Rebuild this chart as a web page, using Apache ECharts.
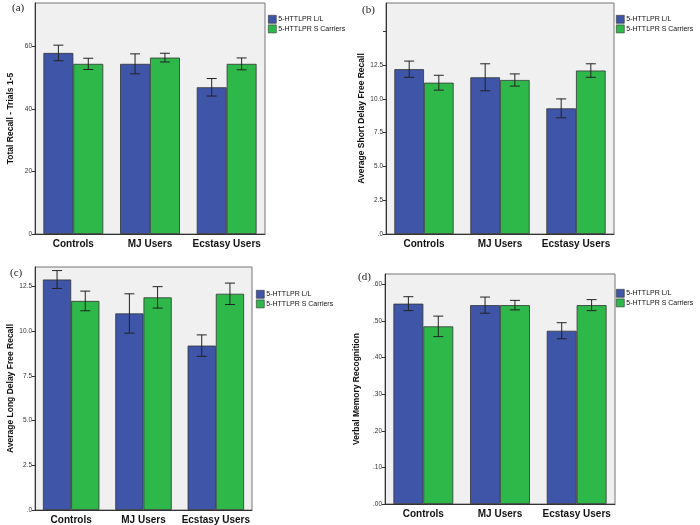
<!DOCTYPE html>
<html><head><meta charset="utf-8">
<script src="https://cdn.jsdelivr.net/npm/echarts@6/dist/echarts.min.js"></script>
<style>body{margin:0;background:#fff}#c{width:700px;height:525px}</style>
</head><body><div id="c"></div>
<script>
const categories = ['Controls', 'MJ Users', 'Ecstasy Users'];
const seriesNames = ['5-HTTLPR L/L', '5-HTTLPR S Carriers'];
const panelLabels = ['(a)', '(b)', '(c)', '(d)'];
const yNames = ['Total Recall - Trials 1-5', 'Average Short Delay Free Recall', 'Average Long Delay Free Recall', 'Verbal Memory Recognition'];
const aLL = [58, 54.5, 47];       const aLLerr = [2.5, 3.2, 2.8];
const aS  = [54.5, 56.5, 54.5];   const aSerr  = [1.8, 1.4, 1.9];
const bLL = [12.2, 11.6, 9.3];    const bLLerr = [0.6, 1.0, 0.7];
const bS  = [11.2, 11.4, 12.1];   const bSerr  = [0.55, 0.45, 0.5];
const cLL = [12.9, 11.0, 9.2];    const cLLerr = [0.5, 1.1, 0.6];
const cS  = [11.7, 11.9, 12.1];   const cSerr  = [0.55, 0.6, 0.6];
const dLL = [0.547, 0.543, 0.473]; const dLLerr = [0.019, 0.022, 0.022];
const dS  = [0.485, 0.543, 0.543]; const dSerr  = [0.028, 0.013, 0.015];
const aTicks = [0, 20, 40, 60];
const bTicks = ['.0', '2.5', '5.0', '7.5', '10.0', '12.5'];
const dTicks = ['.00', '.10', '.20', '.30', '.40', '.50', '.60'];

const panels = [
  {ll:aLL,lle:aLLerr,s:aS,se:aSerr,max:74,interval:20,fmt:v=>aTicks.includes(v)?String(v):''},
  {ll:bLL,lle:bLLerr,s:bS,se:bSerr,max:17.1,interval:2.5,fmt:v=>bTicks[Math.round(v/2.5)]||''},
  {ll:cLL,lle:cLLerr,s:cS,se:cSerr,max:13.6,interval:2.5,fmt:v=>bTicks[Math.round(v/2.5)]||''},
  {ll:dLL,lle:dLLerr,s:dS,se:dSerr,max:0.628,interval:0.1,fmt:v=>dTicks[Math.round(v/0.1)]||''}
];
const grids = [
  {left:35,top:3,width:230,height:231},
  {left:386,top:3,width:228,height:231},
  {left:35,top:267,width:217,height:245},
  {left:385,top:274,width:230,height:230}
];
const legendPos = [[268,15],[616,15],[256,290],[616,289]];
const labelPos = [[12,3],[362,5],[10,268],[358,272]];
const colors = ['#3f56a8', '#2fb84a'];
const font = 'Liberation Sans, DejaVu Sans, sans-serif';

const option = {animation:false, grid:[], xAxis:[], yAxis:[], series:[], legend:[], graphic:[]};
const errRender = (offsetSign) => (params, api) => {
  const x = api.value(0), lo = api.value(1), hi = api.value(2);
  const band = api.size([1,0])[0];
  const cx = api.coord([x, lo])[0] + offsetSign*band*0.195;
  const yl = api.coord([x, lo])[1], yh = api.coord([x, hi])[1];
  const w = 5;
  const st = {stroke:'#222', lineWidth:1};
  return {type:'group', children:[
    {type:'line', shape:{x1:cx,y1:yl,x2:cx,y2:yh}, style:st},
    {type:'line', shape:{x1:cx-w,y1:yl,x2:cx+w,y2:yl}, style:st},
    {type:'line', shape:{x1:cx-w,y1:yh,x2:cx+w,y2:yh}, style:st}
  ]};
};
panels.forEach((p, i) => {
  option.grid.push(Object.assign({backgroundColor:'#f0f0f0', show:true, borderColor:'#777', borderWidth:1}, grids[i]));
  option.xAxis.push({type:'category', gridIndex:i, data:categories,
    axisLine:{lineStyle:{color:'#333'}}, axisTick:{show:false},
    axisLabel:{interval:0, fontFamily:font, fontWeight:'bold', fontSize:10, color:'#111', margin:5}});
  option.yAxis.push({type:'value', gridIndex:i, min:0, max:p.max, interval:p.interval,
    name:yNames[i], nameLocation:'middle', nameGap:i==3?24:20, nameRotate:90,
    nameTextStyle:{fontFamily:font, fontWeight:'bold', fontSize:8.5, color:'#111'},
    splitLine:{show:false}, axisLine:{show:true, lineStyle:{color:'#333'}},
    axisTick:{show:true, length:3}, axisLabel:{fontFamily:font, fontSize:6.5, color:'#333', margin:3, formatter:p.fmt, showMaxLabel:false}});
  [[p.ll,p.lle,-1],[p.s,p.se,1]].forEach(([vals,errs,sg],k) => {
    option.series.push({type:'bar', name:seriesNames[k], xAxisIndex:i, yAxisIndex:i, data:vals,
      barGap:'0%', barCategoryGap:'22%', itemStyle:{color:colors[k], borderColor:'#333', borderWidth:0.8}});
  });
  [[p.ll,p.lle,-1],[p.s,p.se,1]].forEach(([vals,errs,sg]) => {
    option.series.push({type:'custom', xAxisIndex:i, yAxisIndex:i, z:5,
      renderItem:errRender(sg), data:vals.map((v,j)=>[j, v-errs[j], v+errs[j]])});
  });
  option.legend.push({orient:'vertical', left:legendPos[i][0], top:legendPos[i][1], data:seriesNames,
    itemWidth:8, itemHeight:8, itemGap:1, icon:'rect', padding:0,
    itemStyle:{borderColor:'#333', borderWidth:0.6},
    textStyle:{fontFamily:font, fontSize:7, color:'#111', padding:[0,0,0,-3]}});
  option.graphic.push({type:'text', left:labelPos[i][0], top:labelPos[i][1],
    style:{text:panelLabels[i], font:'11px "Liberation Serif", serif', fill:'#222'}});
});
const chart = echarts.init(document.getElementById('c'));
chart.setOption(option);
</script></body></html>
